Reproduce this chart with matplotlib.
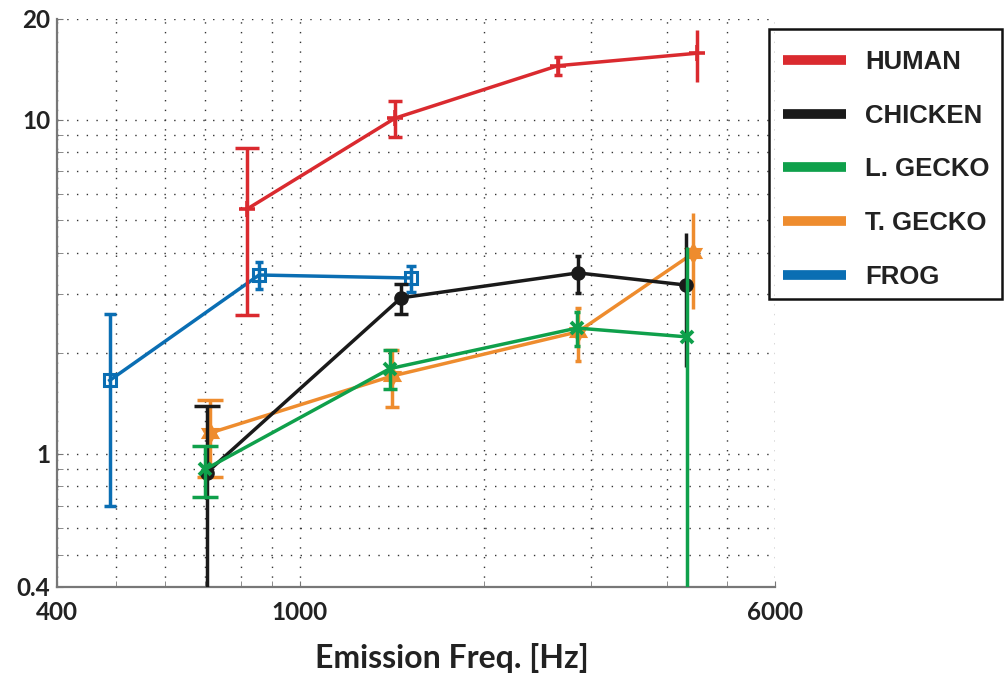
import matplotlib
matplotlib.use('Agg')
import matplotlib.pyplot as plt
import matplotlib.transforms as mtransforms
from matplotlib.lines import Line2D
from matplotlib.patches import Rectangle
import numpy as np

# series (freq in Hz, value, symmetric error)
human_f = [819, 1431, 2646, 4472]
human_v = [5.4, 10.1, 14.5, 15.8]
human_e = [2.8, 1.25, 0.9, 2.8]

chicken_f = [704, 1464, 2854, 4290]
chicken_v = [0.88, 2.93, 3.48, 3.2]
chicken_e = [0.51, 0.3, 0.44, 1.38]

lgecko_f = [700, 1404, 2844, 4300]
lgecko_v = [0.9, 1.8, 2.38, 2.24]
lgecko_e = [0.155, 0.24, 0.27, 1.92]

tgecko_f = [712, 1415, 2854, 4404]
tgecko_v = [1.155, 1.71, 2.32, 3.98]
tgecko_e = [0.3, 0.33, 0.42, 1.27]

frog_f = [488, 857, 1520]
frog_v = [1.66, 3.43, 3.36]
frog_e = [0.96, 0.31, 0.3]

labels = ['HUMAN', 'CHICKEN', 'L. GECKO', 'T. GECKO', 'FROG']
colors = ['#DA2A2F', '#1A1A1A', '#0FA04B', '#EE8C2E', '#0A6EB3']

x_major = [400, 1000, 6000]
x_minor = [500, 600, 700, 800, 900, 2000, 3000, 4000, 5000]
y_major = [0.4, 1, 10, 20]
y_minor = [0.5, 0.6, 0.7, 0.8, 0.9, 2, 3, 4, 5, 6, 7, 8, 9]

# six-pointed star marker
ang = np.pi / 2 + np.arange(12) * np.pi / 6
rad = np.where(np.arange(12) % 2 == 0, 1.0, 0.577)
hexagram = list(zip(rad * np.cos(ang), rad * np.sin(ang)))

W, H = 1007, 676
fig = plt.figure(figsize=(W / 100, H / 100), dpi=100)
ax = fig.add_axes([57 / W, 1 - 587 / H, 718 / W, 568 / H])
ax.set_xscale('log')
ax.set_yscale('log')

# cap half-widths shrink with frequency, like the original figure
series = [
    (frog_f, frog_v, frog_e, colors[4], dict(marker='s', ms=9, mfc='none', mew=2.2), [4, 3, 3.5], 2),
    (tgecko_f, tgecko_v, tgecko_e, colors[3], dict(marker=hexagram, ms=16, mew=0), [9.7, 4.7, 2.5, 0], 3),
    (chicken_f, chicken_v, chicken_e, colors[1], dict(marker='o', ms=9.5), [9.7, 4.7, 2.5, 0], 4),
    (lgecko_f, lgecko_v, lgecko_e, colors[2], dict(marker='x', ms=9, mew=2.8), [9.7, 4.7, 2.5, 0], 5),
    (human_f, human_v, human_e, colors[0], dict(marker='+', ms=12, mew=2.6), [8.3, 4.7, 2.9, 0], 6),
]
for f, v, e, c, mk, caps, z in series:
    for fi, vi, ei, cap in zip(f, v, e, caps):
        ax.errorbar([fi], [vi], yerr=[ei], fmt='none', ecolor=c, elinewidth=2.5,
                    capsize=cap, capthick=2.5, zorder=z)
    ax.plot(f, v, color=c, lw=2.5, zorder=z + 0.5, **mk)

ax.set_xlim(400, 6000)
ax.set_ylim(0.4, 20)

ax.xaxis.set_major_locator(matplotlib.ticker.FixedLocator(x_major))
ax.xaxis.set_minor_locator(matplotlib.ticker.FixedLocator(x_minor))
ax.yaxis.set_major_locator(matplotlib.ticker.FixedLocator(y_major))
ax.yaxis.set_minor_locator(matplotlib.ticker.FixedLocator(y_minor))
ax.set_xticklabels([str(t) for t in x_major])
ax.set_yticklabels(['0.4', '1', '10', '20'])
ax.xaxis.set_minor_formatter(matplotlib.ticker.NullFormatter())
ax.yaxis.set_minor_formatter(matplotlib.ticker.NullFormatter())

for lab in ax.get_xticklabels() + ax.get_yticklabels():
    lab.set_fontfamily('Lato')
    lab.set_fontweight('bold')
    lab.set_fontsize(17.5)
    lab.set_color('#222222')
# nudge "400" right so it clears "0.4"
first = ax.get_xticklabels()[0]
first.set_transform(first.get_transform() + mtransforms.ScaledTranslation(17 / 100, 0, fig.dpi_scale_trans))

ax.tick_params(which='both', direction='in', length=4, color='#777777', pad=5)
ax.tick_params(axis='x', pad=10)

ax.grid(True, which='both', linestyle=(0, (1, 6)), color='#333333', lw=1.0)
for s in ['top', 'right']:
    ax.spines[s].set_visible(False)
for s in ['left', 'bottom']:
    ax.spines[s].set_color('#777777')
    ax.spines[s].set_linewidth(1.6)

fig.text(452 / W, 1 - 658 / H, 'Emission Freq. [Hz]', ha='center', va='center',
         family='Lato', weight='bold', size=23, color='#222222')

# legend box drawn separately so its padding can match the original
fig.patches.append(Rectangle((769 / W, 1 - 299 / H), 233 / W, 270 / H, transform=fig.transFigure,
                             fill=False, edgecolor='#111111', lw=1.8))
handles = [Line2D([0], [0], color=c, lw=7, solid_capstyle='butt') for c in colors]
leg = fig.legend(handles, labels, loc='upper left', bbox_to_anchor=(770 / W, 1 - 37 / H),
                 frameon=False, handlelength=2.45, handletextpad=0.74, labelspacing=1.16,
                 borderpad=0.5, borderaxespad=0,
                 prop=dict(family='Liberation Sans', weight='bold', size=18.5))
for t in leg.get_texts():
    t.set_color('#222222')

fig.savefig('out.png', dpi=100, facecolor='white')
